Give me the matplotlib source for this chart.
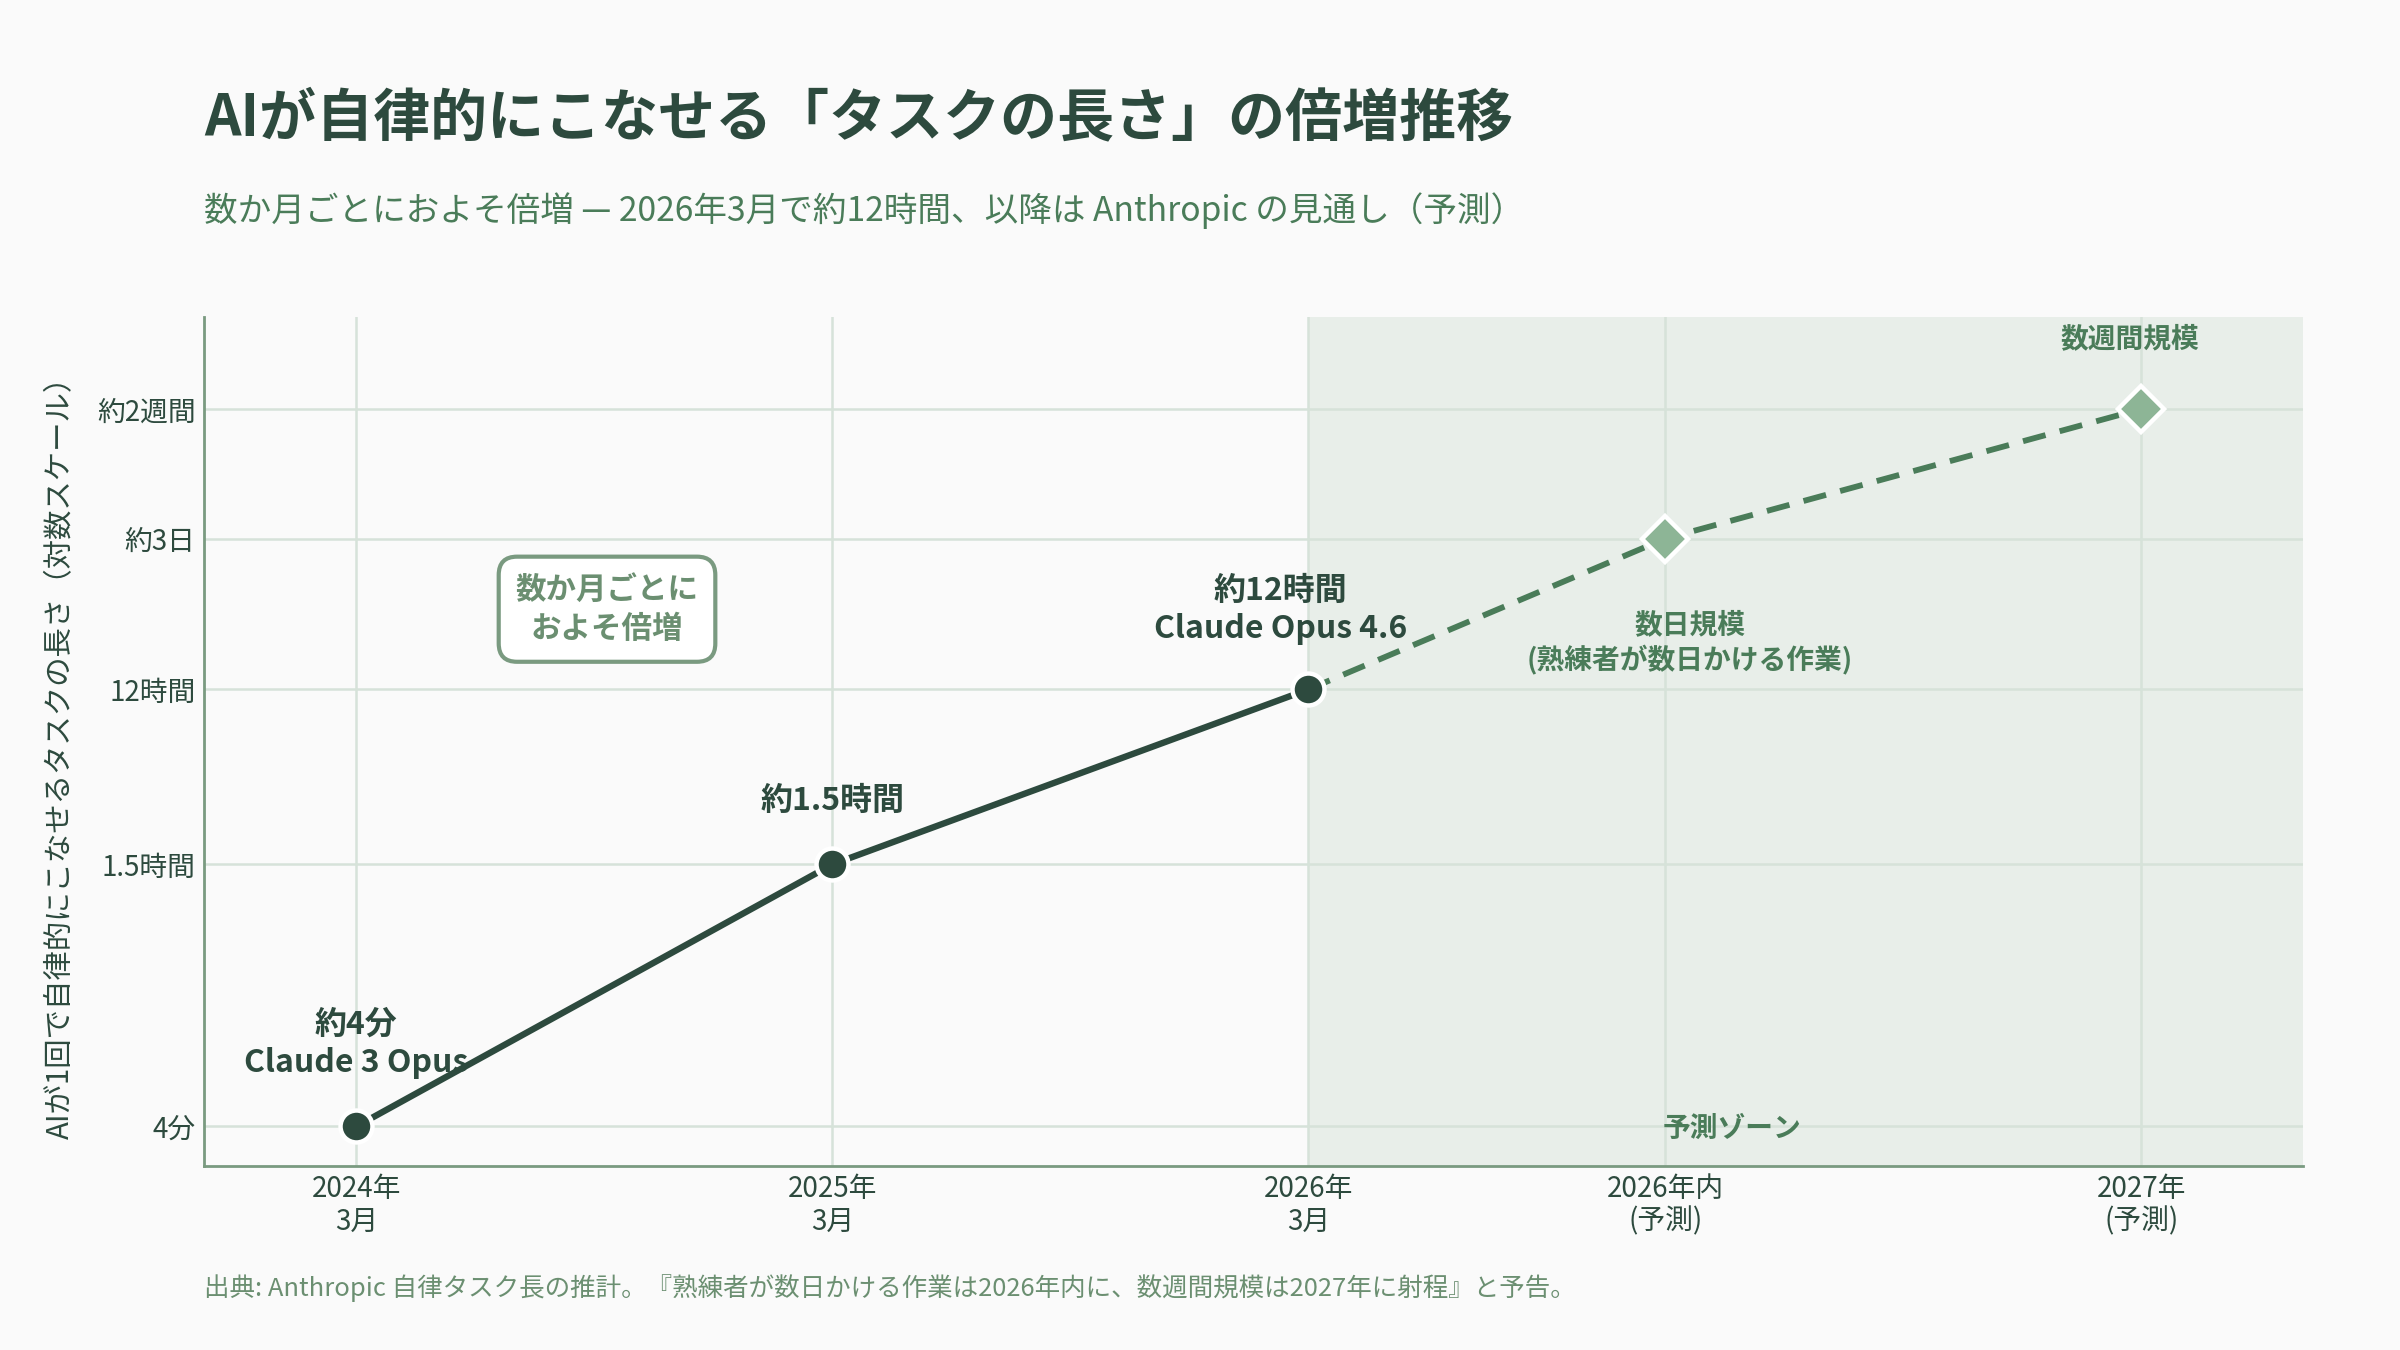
import matplotlib
matplotlib.use("Agg")
import matplotlib.pyplot as plt
from matplotlib.ticker import FixedLocator, NullLocator

plt.rcParams['font.family'] = ['Noto Sans CJK JP', 'DejaVu Sans']

# data (minutes, log scale)
x_pos = [0, 1, 2, 2.75, 3.75]
x_labels = ["2024年\n3月", "2025年\n3月", "2026年\n3月", "2026年内\n(予測)", "2027年\n(予測)"]
minutes = [4, 90, 720, 4320, 20160]
y_ticks = [4, 90, 720, 4320, 20160]
y_labels = ["4分", "1.5時間", "12時間", "約3日", "約2週間"]
point_labels = ["約4分\nClaude 3 Opus", "約1.5時間", "約12時間\nClaude Opus 4.6",
                "数日規模\n(熟練者が数日かける作業)", "数週間規模"]

DARK = "#2d4a3e"
MID = "#4a7c59"
LIGHT = "#8db596"
SPINE = "#7a9a80"
GRID = "#d6e2d9"
SHADE = "#e8eee9"
BG = "#fafafa"

fig = plt.figure(figsize=(12, 6.75), dpi=200, facecolor=BG)
fig.subplots_adjust(left=0.085, right=0.9596, top=0.765, bottom=0.1363)
ax = fig.add_subplot(111)
ax.set_facecolor(BG)

ax.set_xlim(-0.32, 4.09)
ax.set_yscale("log")
ax.set_ylim(2.5, 60000)

# forecast zone
ax.axvspan(2, 4.09, color=SHADE, zorder=0, lw=0)

# solid history, dashed forecast
ax.plot(x_pos[:3], minutes[:3], color=DARK, lw=2.3, zorder=3)
ax.plot(x_pos[2:], minutes[2:], color=MID, lw=2.1, ls=(0, (4, 2.5)), zorder=3)
ax.plot(x_pos[:3], minutes[:3], 'o', ms=11.5, color=DARK, mec="white", mew=1.6, zorder=4)
ax.plot(x_pos[3:], minutes[3:], 'D', ms=11.5, color=LIGHT, mec="white", mew=1.6, zorder=4)

ax.xaxis.set_major_locator(FixedLocator(x_pos))
ax.set_xticklabels(x_labels, fontsize=10, color=DARK, linespacing=1.1)
ax.yaxis.set_major_locator(FixedLocator(y_ticks))
ax.yaxis.set_minor_locator(NullLocator())
ax.set_yticklabels(y_labels, fontsize=10, color=DARK)
ax.tick_params(length=0, pad=3)
ax.grid(True, color=GRID, lw=0.9, zorder=1)
ax.set_axisbelow(True)

for s in ["top", "right"]:
    ax.spines[s].set_visible(False)
for s in ["left", "bottom"]:
    ax.spines[s].set_color(SPINE)
    ax.spines[s].set_linewidth(1.0)

ax.set_ylabel("AIが1回で自律的にこなせるタスクの長さ（対数スケール）", fontsize=10.6, color=DARK)
ax.yaxis.set_label_coords(-0.061, 0.49)

# point annotations
offsets = [(0, 17, 'bottom', DARK, 11.5), (0, 17, 'bottom', DARK, 11.5),
           (-10, 16, 'bottom', DARK, 11.5), (9, -26, 'top', MID, 10), (-4, 20, 'bottom', MID, 10)]
for xv, yv, lab, (dx, dy, va, col, fs) in zip(x_pos, minutes, point_labels, offsets):
    ax.annotate(lab, (xv, yv), xytext=(dx, dy), textcoords="offset points",
                ha="center", va=va, fontsize=fs, fontweight="bold", color=col,
                linespacing=1.25, zorder=5)

ax.text(2.89, 3.9, "予測ゾーン", ha="center", va="center", fontsize=10,
        fontweight="bold", color=MID, zorder=5)

ax.text(0.192, 0.656, "数か月ごとに\nおよそ倍増", transform=ax.transAxes,
        ha="center", va="center", fontsize=11, fontweight="bold", color="#6b8f71",
        linespacing=1.3, zorder=5,
        bbox=dict(boxstyle="round,pad=0.55,rounding_size=0.6", fc="white", ec=SPINE, lw=1.5))

fig.text(0.085, 0.912, "AIが自律的にこなせる「タスクの長さ」の倍増推移",
         fontsize=20.5, fontweight="bold", color=DARK, va="center", ha="left")
fig.text(0.085, 0.844, "数か月ごとにおよそ倍増 — 2026年3月で約12時間、以降は Anthropic の見通し（予測）",
         fontsize=12.1, color=MID, va="center", ha="left")
fig.text(0.085, 0.0455, "出典: Anthropic 自律タスク長の推計。『熟練者が数日かける作業は2026年内に、数週間規模は2027年に射程』と予告。",
         fontsize=9.2, color="#6b8f71", va="center", ha="left")

fig.savefig("out.png", dpi=200, facecolor=BG)
